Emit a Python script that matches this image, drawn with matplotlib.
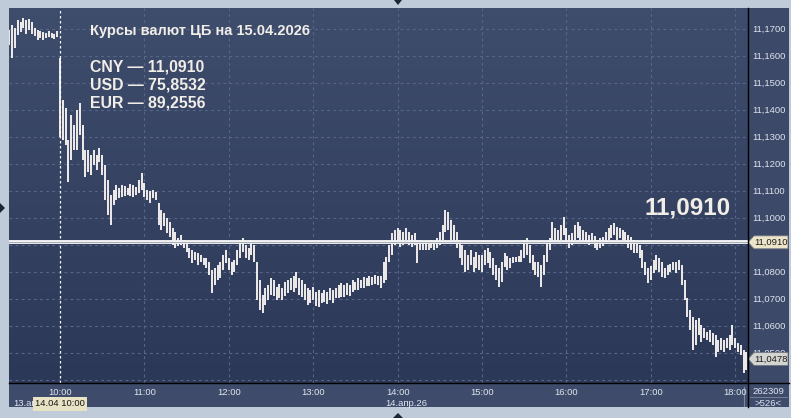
import matplotlib
matplotlib.use("Agg")
import matplotlib.pyplot as plt
import numpy as np
from matplotlib.patches import Polygon
from matplotlib.lines import Line2D
from matplotlib.colors import LinearSegmentedColormap
from matplotlib.transforms import IdentityTransform, blended_transform_factory

plt.rcParams['font.family'] = ['Liberation Sans', 'DejaVu Sans']

# --- data: CNY/RUB bars, one bar every 2 minutes, minutes counted from 10:00 ---
t_start = -36
bar_step = 2
bar_high = [
    11.1696, 11.1715, 11.1704, 11.1733, 11.1726, 11.1741, 11.1733, 11.1737, 11.1726, 11.1704,
    11.1696, 11.1693, 11.1689, 11.1685, 11.1693, 11.1685, 11.1681, 11.1693, 11.1593, 11.1437,
    11.1407, 11.1289, 11.1381, 11.1344, 11.1400, 11.1426, 11.1344, 11.1252, 11.1252, 11.1233,
    11.1252, 11.1233, 11.1259, 11.1233, 11.1196, 11.1141, 11.1085, 11.1104, 11.1122, 11.1111,
    11.1122, 11.1119, 11.1111, 11.1126, 11.1122, 11.1115, 11.1141, 11.1167, 11.1130, 11.1104,
    11.1100, 11.1104, 11.1096, 11.1056, 11.1030, 11.1019, 11.1000, 11.0985, 11.0963, 11.0948,
    11.0926, 11.0937, 11.0919, 11.0907, 11.0889, 11.0881, 11.0874, 11.0870, 11.0863, 11.0852,
    11.0852, 11.0837, 11.0807, 11.0815, 11.0826, 11.0837, 11.0863, 11.0881, 11.0852, 11.0837,
    11.0844, 11.0881, 11.0919, 11.0926, 11.0900, 11.0889, 11.0919, 11.0900, 11.0837, 11.0770,
    11.0715, 11.0741, 11.0752, 11.0778, 11.0770, 11.0744, 11.0756, 11.0741, 11.0763, 11.0770,
    11.0778, 11.0785, 11.0800, 11.0778, 11.0770, 11.0756, 11.0741, 11.0733, 11.0744, 11.0726,
    11.0733, 11.0722, 11.0733, 11.0726, 11.0741, 11.0733, 11.0741, 11.0752, 11.0759, 11.0752,
    11.0759, 11.0752, 11.0770, 11.0763, 11.0778, 11.0770, 11.0781, 11.0778, 11.0785, 11.0781,
    11.0789, 11.0785, 11.0785, 11.0837, 11.0856, 11.0900, 11.0944, 11.0956, 11.0963, 11.0956,
    11.0948, 11.0963, 11.0948, 11.0937, 11.0944, 11.0919, 11.0919, 11.0907, 11.0907, 11.0904,
    11.0919, 11.0911, 11.0926, 11.0948, 11.0974, 11.1030, 11.1022, 11.0993, 11.0974, 11.0948,
    11.0919, 11.0900, 11.0881, 11.0863, 11.0881, 11.0856, 11.0874, 11.0863, 11.0863, 11.0881,
    11.0889, 11.0874, 11.0852, 11.0826, 11.0815, 11.0837, 11.0870, 11.0859, 11.0852, 11.0856,
    11.0856, 11.0859, 11.0881, 11.0919, 11.0926, 11.0900, 11.0863, 11.0837, 11.0837, 11.0826,
    11.0863, 11.0907, 11.0926, 11.0985, 11.0963, 11.0956, 11.0974, 11.1004, 11.0963, 11.0937,
    11.0944, 11.0974, 11.0985, 11.0970, 11.0956, 11.0948, 11.0937, 11.0944, 11.0933, 11.0919,
    11.0926, 11.0930, 11.0948, 11.0963, 11.0974, 11.0981, 11.0967, 11.0963, 11.0956, 11.0948,
    11.0937, 11.0930, 11.0919, 11.0907, 11.0900, 11.0881, 11.0837, 11.0815, 11.0822, 11.0844,
    11.0863, 11.0852, 11.0837, 11.0815, 11.0826, 11.0830, 11.0837, 11.0837, 11.0844, 11.0826,
    11.0770, 11.0704, 11.0659, 11.0633, 11.0622, 11.0630, 11.0604, 11.0593, 11.0578, 11.0585,
    11.0574, 11.0567, 11.0548, 11.0556, 11.0548, 11.0556, 11.0567, 11.0604, 11.0556, 11.0537,
    11.0530, 11.0511, 11.0504,
]
bar_low = [
    11.1641, 11.1593, 11.1630, 11.1678, 11.1689, 11.1704, 11.1681, 11.1696, 11.1681, 11.1674,
    11.1659, 11.1667, 11.1659, 11.1667, 11.1670, 11.1667, 11.1663, 11.1670, 11.1300, 11.1289,
    11.1270, 11.1133, 11.1215, 11.1252, 11.1252, 11.1307, 11.1215, 11.1152, 11.1170, 11.1159,
    11.1196, 11.1178, 11.1207, 11.1159, 11.1067, 11.1011, 11.0974, 11.1048, 11.1067, 11.1074,
    11.1078, 11.1081, 11.1085, 11.1081, 11.1078, 11.1085, 11.1093, 11.1104, 11.1078, 11.1067,
    11.1056, 11.1074, 11.1067, 11.0974, 11.0956, 11.0970, 11.0944, 11.0930, 11.0900, 11.0889,
    11.0896, 11.0900, 11.0889, 11.0874, 11.0852, 11.0833, 11.0844, 11.0826, 11.0837, 11.0826,
    11.0815, 11.0789, 11.0722, 11.0752, 11.0770, 11.0778, 11.0807, 11.0833, 11.0807, 11.0789,
    11.0800, 11.0826, 11.0852, 11.0874, 11.0852, 11.0844, 11.0863, 11.0837, 11.0696, 11.0659,
    11.0648, 11.0678, 11.0696, 11.0715, 11.0711, 11.0696, 11.0704, 11.0696, 11.0711, 11.0722,
    11.0733, 11.0726, 11.0741, 11.0715, 11.0707, 11.0696, 11.0678, 11.0685, 11.0696, 11.0674,
    11.0670, 11.0685, 11.0689, 11.0681, 11.0696, 11.0685, 11.0704, 11.0704, 11.0707, 11.0707,
    11.0715, 11.0711, 11.0726, 11.0733, 11.0733, 11.0741, 11.0741, 11.0748, 11.0748, 11.0752,
    11.0756, 11.0752, 11.0741, 11.0759, 11.0770, 11.0837, 11.0863, 11.0900, 11.0911, 11.0893,
    11.0900, 11.0919, 11.0900, 11.0893, 11.0900, 11.0833, 11.0881, 11.0881, 11.0881, 11.0881,
    11.0889, 11.0881, 11.0889, 11.0900, 11.0919, 11.0948, 11.0956, 11.0919, 11.0907, 11.0889,
    11.0852, 11.0826, 11.0800, 11.0807, 11.0826, 11.0800, 11.0815, 11.0807, 11.0800, 11.0826,
    11.0833, 11.0815, 11.0789, 11.0770, 11.0744, 11.0763, 11.0819, 11.0807, 11.0815, 11.0833,
    11.0837, 11.0837, 11.0837, 11.0852, 11.0863, 11.0833, 11.0807, 11.0789, 11.0781, 11.0744,
    11.0789, 11.0837, 11.0881, 11.0907, 11.0907, 11.0911, 11.0919, 11.0937, 11.0911, 11.0889,
    11.0900, 11.0919, 11.0926, 11.0911, 11.0907, 11.0907, 11.0900, 11.0911, 11.0889, 11.0881,
    11.0889, 11.0896, 11.0907, 11.0919, 11.0926, 11.0937, 11.0919, 11.0926, 11.0919, 11.0911,
    11.0889, 11.0881, 11.0870, 11.0870, 11.0852, 11.0815, 11.0789, 11.0759, 11.0770, 11.0796,
    11.0807, 11.0800, 11.0781, 11.0778, 11.0789, 11.0800, 11.0807, 11.0796, 11.0807, 11.0752,
    11.0696, 11.0633, 11.0585, 11.0511, 11.0530, 11.0567, 11.0541, 11.0556, 11.0548, 11.0541,
    11.0530, 11.0485, 11.0504, 11.0511, 11.0504, 11.0519, 11.0511, 11.0530, 11.0519, 11.0504,
    11.0493, 11.0426, 11.0437,
]
bar_t = t_start + bar_step * np.arange(len(bar_high))

cb_rate = 11.0910
last_price = 11.0478
price_ticks = [11.17, 11.16, 11.15, 11.14, 11.13, 11.12, 11.11, 11.10,
               11.09, 11.08, 11.07, 11.06, 11.05]
hour_pos = [0, 60, 120, 180, 240, 300, 360, 420, 480]
hour_labels = ["10:00", "11:00", "12:00", "13:00", "14:00", "15:00", "16:00", "17:00", "18:00"]
title = "Курсы валют ЦБ на 15.04.2026"
rate_lines = ["CNY — 11,0910", "USD — 75,8532", "EUR — 89,2556"]
prev_day_label = "13.апр.26"
day_label = "14.апр.26"
cursor_label = "14.04 10:00"
counter_top = "262309"
counter_bottom = ">526<"

W, H = 791, 418
fig = plt.figure(figsize=(W / 100, H / 100), dpi=100)
fig.patch.set_facecolor('#c0cbda')


def box(x0, y0, x1, y1):
    # pixel box (top-left origin) -> figure fraction rect
    return [x0 / W, 1 - y1 / H, (x1 - x0) / W, (y1 - y0) / H]


def hide(a):
    a.set_xticks([])
    a.set_yticks([])
    for s in a.spines.values():
        s.set_visible(False)


ax = fig.add_axes(box(9, 8, 748, 383))
ax_right = fig.add_axes(box(748, 8, 789, 383))
ax_bot = fig.add_axes(box(9, 383, 748, 407))
ax_corner = fig.add_axes(box(748, 383, 789, 407))
for a in (ax, ax_right, ax_bot, ax_corner):
    hide(a)
ax_right.set_facecolor('#3c4969')
ax_bot.set_facecolor('#3e4b6a')
ax_corner.set_facecolor('#3e4b6a')

xlim = (-36.3, 489.1)
ylim = (11.03889, 11.17778)
ax.set_xlim(*xlim)
ax.set_ylim(*ylim)

# background gradient
grad = np.linspace(0, 1, 200).reshape(-1, 1)
cmap = LinearSegmentedColormap.from_list('bg', ['#2c3857', '#3f4d6d'])
ax.imshow(grad, extent=[xlim[0], xlim[1], ylim[0], ylim[1]], aspect='auto',
          cmap=cmap, origin='lower', zorder=0)

grid_c = '#586689'
for p in price_ticks + [11.04]:
    ax.axhline(p, color=grid_c, lw=0.8, ls=(0, (2.5, 3)), zorder=1)
for h in hour_pos[1:]:
    ax.axvline(h, color=grid_c, lw=0.8, ls=(0, (2.5, 3)), zorder=1)
ax.axvline(0, color='#f4f4f4', lw=0.9, ls=(0, (2, 2)), zorder=2)

ax.vlines(bar_t, bar_low, bar_high, color='#fffaf6', lw=1.3, zorder=3)

ax.axhline(cb_rate, color='#f2f2f2', lw=2.8, zorder=4)
ax.axhline(cb_rate, color='#9aa1ae', lw=0.6, zorder=5)

# texts on the chart
txt_c = '#f1eee8'
fig.text(90 / W, 1 - 31 / H, title, ha='left', va='center', fontsize=10.5,
         fontweight='bold', color=txt_c)
for i, line in enumerate(rate_lines):
    fig.text(90 / W, 1 - (67.5 + 18 * i) / H, line, ha='left', va='center',
             fontsize=11.4, fontweight='bold', color=txt_c)
fig.text(688 / W, 1 - 208 / H, f"{cb_rate:.4f}".replace('.', ','), ha='center',
         va='center', fontsize=17.5, fontweight='bold', color=txt_c)

# right price scale
lab_c = '#dfe5ee'
ax_right.set_ylim(*ylim)
ax_right.set_xlim(0, 1)
for p in price_ticks:
    ax_right.text(0.1, p, f"{p:.4f}".replace('.', ','), ha='left',
                  va='center', fontsize=6.8, color=lab_c)


def price_tag(price, face):
    yd = ax.transData.transform((0, price))[1]
    x0 = 748
    pts = [(x0, yd), (x0 + 6, yd + 6.5), (x0 + 40, yd + 6.5),
           (x0 + 40, yd - 6.5), (x0 + 6, yd - 6.5)]
    fig.add_artist(Polygon(pts, closed=True, transform=IdentityTransform(),
                           facecolor=face, edgecolor='#6f7480', lw=0.6, zorder=10))
    fig.text(x0 + 23, yd, f"{price:.4f}".replace('.', ','), transform=IdentityTransform(),
             ha='center', va='center', fontsize=6.8, color='#1c1c1c', zorder=11)


price_tag(cb_rate, '#ece5c9')
price_tag(last_price, '#d3d4d0')

# time scale
ax_bot.set_xlim(*xlim)
ax_bot.set_ylim(0, 1)
for h, lab in zip(hour_pos, hour_labels):
    ax_bot.text(h, 0.62, lab, ha='center', va='center', fontsize=6.8, color=lab_c)
ax_bot.text(t_start + 3, 0.15, prev_day_label, ha='left', va='center', fontsize=6.8,
            color=lab_c)
ax_bot.text(231, 0.15, day_label, ha='left', va='center', fontsize=6.8, color=lab_c)
ax_bot.text(0, 0.13, cursor_label, ha='center', va='center', fontsize=6.8,
            color='#151515', zorder=5,
            bbox=dict(boxstyle='square,pad=0.25', facecolor='#e9e3c6', edgecolor='none'))
ax_bot.axvline(486, ymin=0.05, ymax=0.85, color='#7d889c', lw=0.8)

ax_corner.set_xlim(0, 1)
ax_corner.set_ylim(0, 1)
ax_corner.text(0.5, 0.64, counter_top, ha='center', va='center', fontsize=6.8, color=lab_c)
ax_corner.text(0.5, 0.16, counter_bottom, ha='center', va='center', fontsize=6.8, color=lab_c)
ax_corner.axhline(0.42, xmin=0.05, xmax=0.95, color='#7d889c', lw=0.6)

# black separators
fig.add_artist(Line2D([9 / W, 789 / W], [1 - 383 / H, 1 - 383 / H],
                      transform=fig.transFigure, color='black', lw=1.0, zorder=12))
fig.add_artist(Line2D([748 / W, 748 / W], [1 - 8 / H, 1 - 407 / H],
                      transform=fig.transFigure, color='black', lw=1.0, zorder=12))

# small scroll markers on the frame
for pts in ([(394, 418), (402, 418), (398, 413)],
            [(0, 418 - 203), (0, 418 - 213), (5, 418 - 208)],
            [(393, 0), (403, 0), (398, 5)]):
    fig.add_artist(Polygon(pts, closed=True, transform=IdentityTransform(),
                           facecolor='#1e2536', edgecolor='none', zorder=12))

fig.savefig("out.png", dpi=100, facecolor=fig.get_facecolor())
